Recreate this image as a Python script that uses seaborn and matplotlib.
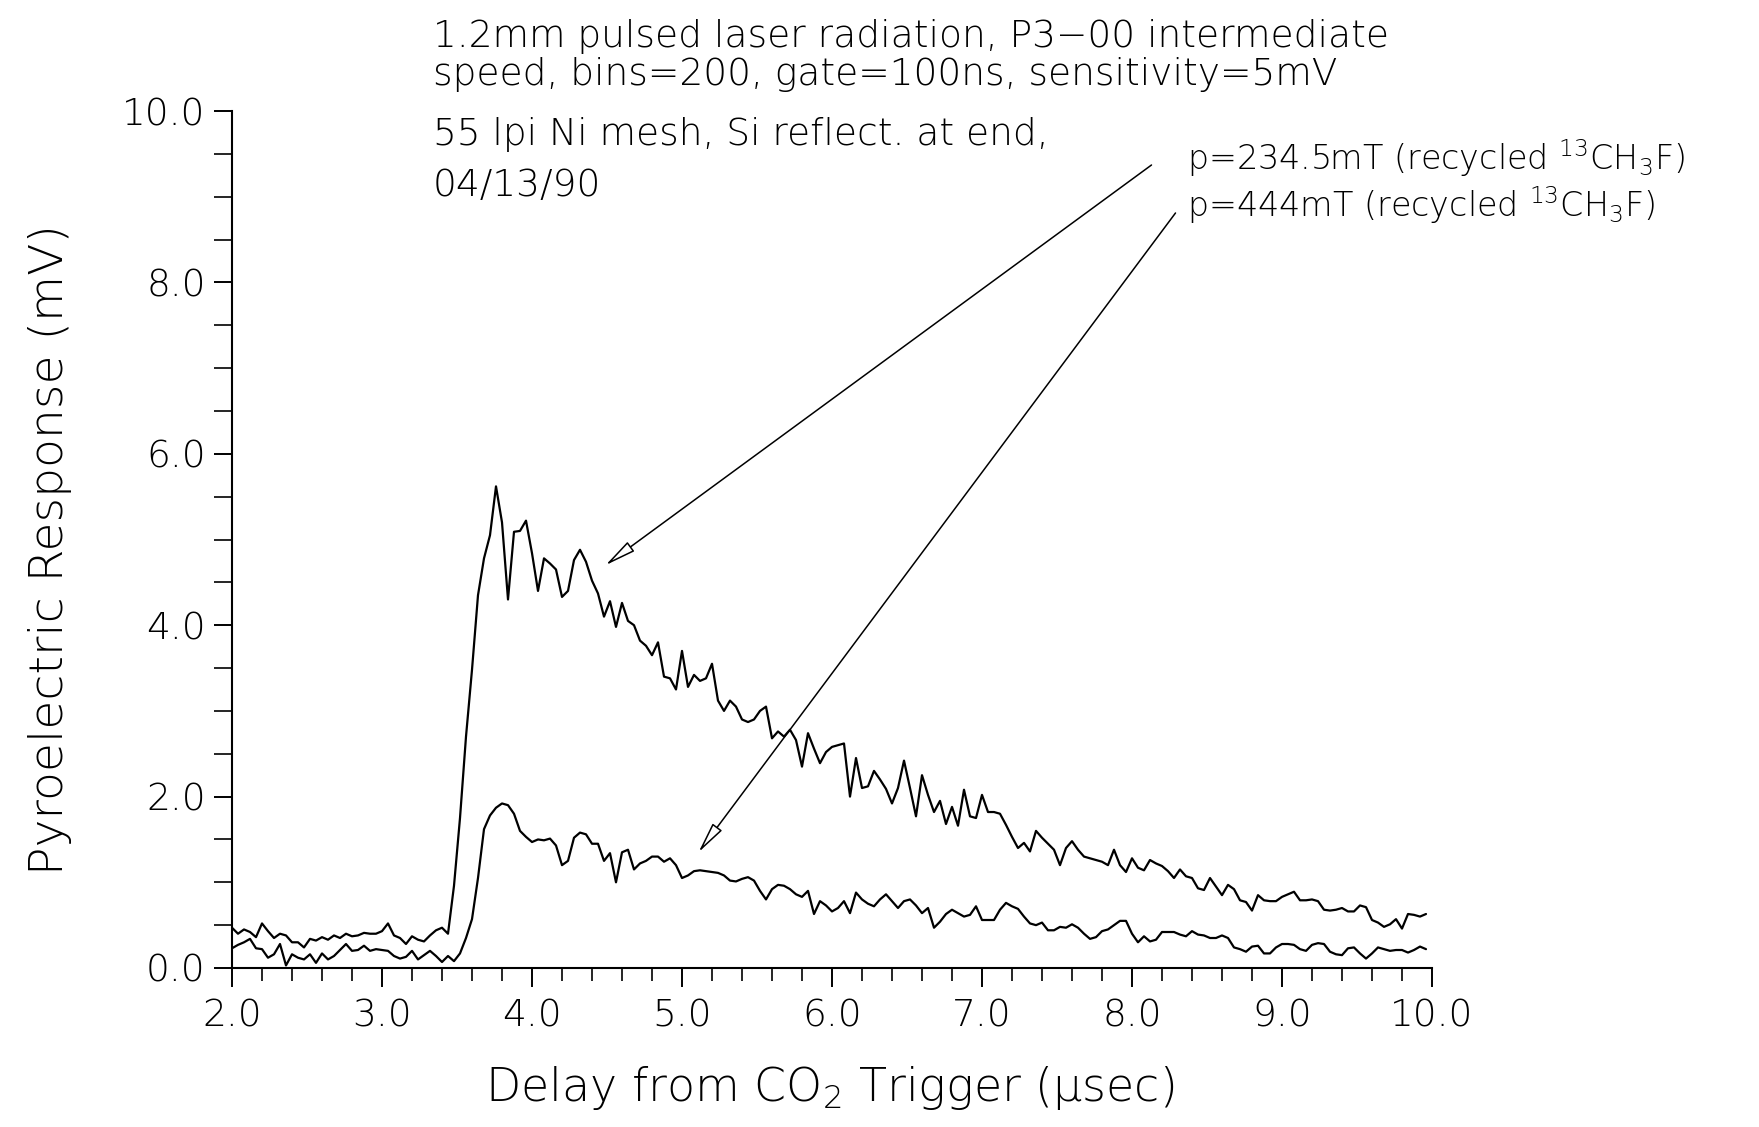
"""Pyroelectric response vs. delay, two 13CH3F fill pressures (04/13/90 run)."""

from __future__ import annotations

import matplotlib
import matplotlib.pyplot as plt
import numpy as np
import pandas as pd
import seaborn as sns
from matplotlib.ticker import FormatStrFormatter, MultipleLocator

matplotlib.use("Agg")

OUT_PATH = "out.png"
FIG_W, FIG_H = 1759, 1127  # pixels at dpi=100

# 200 bins of 40 ns starting at 2.0 usec
BIN_START = 2.0
BIN_WIDTH = 0.04

# p=234.5mT trace (mV)
RESP_234 = [
    0.47, 0.40, 0.45, 0.42, 0.36, 0.52, 0.43, 0.35, 0.40, 0.38,
    0.30, 0.30, 0.24, 0.34, 0.32, 0.36, 0.33, 0.38, 0.35, 0.40,
    0.37, 0.38, 0.41, 0.40, 0.40, 0.43, 0.52, 0.38, 0.35, 0.28,
    0.37, 0.33, 0.31, 0.38, 0.44, 0.47, 0.40, 0.96, 1.75, 2.70,
    3.48, 4.35, 4.78, 5.05, 5.62, 5.20, 4.30, 5.09, 5.10, 5.22,
    4.84, 4.40, 4.78, 4.72, 4.65, 4.33, 4.40, 4.76, 4.88, 4.74,
    4.52, 4.37, 4.10, 4.28, 3.98, 4.26, 4.05, 4.00, 3.82, 3.76,
    3.65, 3.80, 3.40, 3.38, 3.25, 3.70, 3.28, 3.42, 3.35, 3.38,
    3.55, 3.12, 3.00, 3.12, 3.05, 2.90, 2.87, 2.90, 3.00, 3.05,
    2.68, 2.76, 2.70, 2.78, 2.66, 2.35, 2.74, 2.56, 2.39, 2.52,
    2.58, 2.60, 2.62, 2.00, 2.45, 2.10, 2.12, 2.30, 2.20, 2.09,
    1.92, 2.10, 2.42, 2.10, 1.77, 2.25, 2.02, 1.82, 1.95, 1.68,
    1.88, 1.66, 2.08, 1.77, 1.75, 2.02, 1.82, 1.82, 1.80, 1.67,
    1.53, 1.40, 1.46, 1.36, 1.60, 1.52, 1.45, 1.38, 1.20, 1.40,
    1.48, 1.38, 1.30, 1.28, 1.26, 1.24, 1.20, 1.38, 1.20, 1.12,
    1.28, 1.17, 1.14, 1.26, 1.22, 1.19, 1.13, 1.05, 1.15, 1.07,
    1.05, 0.93, 0.91, 1.05, 0.95, 0.85, 0.97, 0.92, 0.79, 0.77,
    0.67, 0.85, 0.79, 0.78, 0.78, 0.83, 0.86, 0.89, 0.79, 0.79,
    0.80, 0.78, 0.68, 0.67, 0.68, 0.70, 0.66, 0.66, 0.73, 0.71,
    0.56, 0.53, 0.48, 0.51, 0.57, 0.46, 0.63, 0.62, 0.60, 0.63,
]

# p=444mT trace (mV)
RESP_444 = [
    0.23, 0.27, 0.30, 0.34, 0.23, 0.22, 0.12, 0.16, 0.28, 0.03,
    0.16, 0.12, 0.10, 0.16, 0.06, 0.17, 0.10, 0.14, 0.21, 0.28,
    0.20, 0.21, 0.26, 0.20, 0.22, 0.21, 0.20, 0.14, 0.11, 0.13,
    0.20, 0.10, 0.15, 0.20, 0.14, 0.07, 0.14, 0.08, 0.17, 0.35,
    0.57, 1.05, 1.62, 1.78, 1.87, 1.92, 1.90, 1.80, 1.60, 1.53,
    1.47, 1.50, 1.49, 1.51, 1.43, 1.20, 1.25, 1.52, 1.58, 1.56,
    1.45, 1.45, 1.25, 1.34, 1.00, 1.35, 1.38, 1.15, 1.22, 1.25,
    1.30, 1.30, 1.24, 1.28, 1.20, 1.05, 1.08, 1.13, 1.14, 1.13,
    1.12, 1.11, 1.08, 1.02, 1.01, 1.04, 1.06, 1.02, 0.90, 0.80,
    0.92, 0.97, 0.96, 0.92, 0.86, 0.83, 0.90, 0.63, 0.78, 0.73,
    0.66, 0.70, 0.78, 0.64, 0.88, 0.80, 0.75, 0.72, 0.80, 0.86,
    0.78, 0.70, 0.78, 0.80, 0.73, 0.64, 0.70, 0.47, 0.54, 0.63,
    0.68, 0.64, 0.60, 0.62, 0.72, 0.56, 0.56, 0.56, 0.68, 0.76,
    0.72, 0.69, 0.60, 0.52, 0.50, 0.53, 0.44, 0.44, 0.48, 0.47,
    0.51, 0.47, 0.40, 0.34, 0.36, 0.43, 0.45, 0.50, 0.55, 0.55,
    0.40, 0.30, 0.37, 0.31, 0.33, 0.42, 0.42, 0.42, 0.39, 0.37,
    0.43, 0.39, 0.38, 0.35, 0.35, 0.38, 0.35, 0.24, 0.22, 0.19,
    0.25, 0.26, 0.17, 0.17, 0.24, 0.28, 0.28, 0.27, 0.22, 0.20,
    0.27, 0.29, 0.28, 0.19, 0.16, 0.15, 0.23, 0.24, 0.17, 0.11,
    0.17, 0.24, 0.22, 0.20, 0.21, 0.21, 0.18, 0.21, 0.25, 0.22,
]

SERIES = ["p=234.5mT", "p=444mT"]

HEADER_LINES = [
    "1.2mm pulsed laser radiation, P3\u221200 intermediate",
    "speed, bins=200, gate=100ns, sensitivity=5mV",
    "55 lpi Ni mesh, Si reflect. at end,",
    "04/13/90",
]
HEADER_CENTERS = [36, 74, 135, 185]  # px from top

LEGEND_LINES = [
    r"p=234.5mT (recycled $^{13}$CH$_3$F)",
    r"p=444mT (recycled $^{13}$CH$_3$F)",
]
LEGEND_CENTERS = [158, 205]  # px from top

# arrows: (tail, head) in data coords
ARROWS = [
    ((8.13, 9.37), (4.49, 4.70)),
    ((8.29, 8.81), (5.11, 1.35)),
]

X_LABEL = "Delay from CO$_2$ Trigger (\u00b5sec)"
Y_LABEL = "Pyroelectric Response (mV)"


def _apply_style() -> None:
    sns.set_theme(style="ticks")
    plt.rcParams.update(
        {
            "font.family": ["DejaVu Sans"],
            "font.weight": "light",
            # keep sub/superscripts in the same thin face as the text
            "mathtext.fontset": "custom",
            "mathtext.rm": "DejaVu Sans:light",
            "mathtext.it": "DejaVu Sans:italic",
            "mathtext.bf": "DejaVu Sans:bold",
            "mathtext.default": "rm",
            "text.color": "black",
            "axes.labelcolor": "black",
            "axes.edgecolor": "black",
            "axes.linewidth": 1.5,
            "xtick.color": "black",
            "ytick.color": "black",
            "xtick.major.width": 1.4,
            "xtick.minor.width": 1.2,
            "ytick.major.width": 1.4,
            "ytick.minor.width": 1.2,
        }
    )


def _long_frame() -> pd.DataFrame:
    delay = BIN_START + BIN_WIDTH * np.arange(len(RESP_234))
    frames = [
        pd.DataFrame({"delay": delay, "response": vals, "series": name})
        for name, vals in zip(SERIES, [RESP_234, RESP_444])
    ]
    return pd.concat(frames, ignore_index=True)


def generate_figure() -> None:
    _apply_style()
    df = _long_frame()

    fig = plt.figure(figsize=(FIG_W / 100, FIG_H / 100), dpi=100)
    left, right, top, bottom = 232, 1432, 111, 968
    ax = fig.add_axes(
        [
            left / FIG_W,
            1 - bottom / FIG_H,
            (right - left) / FIG_W,
            (bottom - top) / FIG_H,
        ]
    )

    sns.lineplot(
        data=df,
        x="delay",
        y="response",
        hue="series",
        palette={s: "black" for s in SERIES},
        estimator=None,
        linewidth=1.6,
        legend=False,
        ax=ax,
    )

    ax.set_xlim(2.0, 10.0)
    ax.set_ylim(0.0, 10.0)
    ax.xaxis.set_major_locator(MultipleLocator(1.0))
    ax.xaxis.set_minor_locator(MultipleLocator(0.2))
    ax.yaxis.set_major_locator(MultipleLocator(2.0))
    ax.yaxis.set_minor_locator(MultipleLocator(0.5))
    ax.xaxis.set_major_formatter(FormatStrFormatter("%.1f"))
    ax.yaxis.set_major_formatter(FormatStrFormatter("%.1f"))
    ax.tick_params(axis="x", which="major", length=14, pad=8, labelsize=27)
    ax.tick_params(axis="x", which="minor", length=9)
    ax.tick_params(axis="y", which="both", length=13, pad=6, labelsize=27)
    ax.set_xlabel("")
    ax.set_ylabel("")
    sns.despine(ax=ax)

    # axis titles placed like the plotter output
    fig.text(830 / FIG_W, 1 - 1088 / FIG_H, X_LABEL, ha="center", va="center",
             fontsize=33)
    fig.text(50 / FIG_W, 1 - 550 / FIG_H, Y_LABEL, ha="center", va="center",
             rotation=90, fontsize=34)

    for line, yc in zip(HEADER_LINES, HEADER_CENTERS):
        fig.text(433 / FIG_W, 1 - yc / FIG_H, line, ha="left", va="center",
                 fontsize=27)

    for line, yc in zip(LEGEND_LINES, LEGEND_CENTERS):
        fig.text(1187 / FIG_W, 1 - yc / FIG_H, line, ha="left", va="center",
                 fontsize=24)

    for tail, head in ARROWS:
        ax.annotate(
            "",
            xy=head,
            xytext=tail,
            xycoords="data",
            textcoords="data",
            annotation_clip=False,
            arrowprops={
                "arrowstyle": "-|>,head_length=1.6,head_width=0.3",
                "edgecolor": "black",
                "facecolor": "white",
                "linewidth": 1.1,
                "shrinkA": 0,
                "shrinkB": 0,
            },
        )

    fig.savefig(OUT_PATH, dpi=100)
    plt.close(fig)


def main() -> None:
    generate_figure()


if __name__ == "__main__":
    main()
